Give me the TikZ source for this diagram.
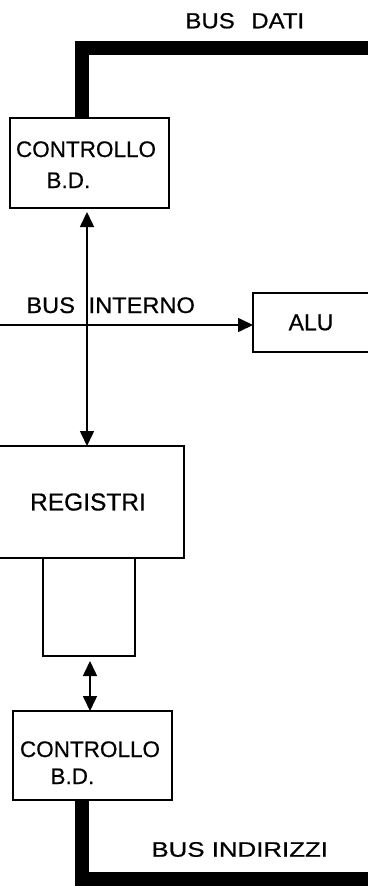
\documentclass[tikz,border=0pt]{standalone}
\usepackage{fontspec}
\setmainfont{Liberation Sans}
\newfontfamily\diagfont[FakeBold=0.6]{Liberation Sans}
\usetikzlibrary{arrows.meta}
\tikzset{
  blk/.style={draw, line width=1.6pt, inner sep=0pt, outer sep=0pt,
    font=\diagfont\fontsize{22.5}{27}\selectfont},
  lbl/.style={inner sep=0pt, outer sep=0pt, anchor=base west,
    font=\diagfont\fontsize{22.5}{27}\selectfont},
  bus/.style={line width=14pt, line join=miter, line cap=butt},
  wire/.style={line width=1.6pt},
  head/.tip={Triangle[length=15pt,width=14pt]},
  onearrow/.style={wire, -head},
  twoway/.style={wire, head-head}
}
\begin{document}
\begin{tikzpicture}[x=1pt, y=-1pt]
  \useasboundingbox (0,0) rectangle (367,886);

  % blocks
  \node[blk, minimum width=159pt, minimum height=90pt] (ctl1) at (89.5,163) {};
  \node[blk, minimum width=116pt, minimum height=59pt,
        font=\diagfont\fontsize{23}{27}\selectfont] (alu) at (311,322.5) {ALU};
  \node[blk, minimum width=192pt, minimum height=112pt,
        font=\diagfont\fontsize{24.5}{27}\selectfont] (reg) at (88,502) {REGISTRI};
  \node[blk, minimum width=92pt, minimum height=98pt] (buf) at (89,607) {};
  \node[blk, minimum width=159pt, minimum height=89pt] (ctl2) at (92.5,755.5) {};

  % block captions
  \node[lbl] (ctl1a) at (16,157) {CONTROLLO};
  \node[lbl] (ctl1b) at (46.5,188) {B.D.};
  \node[lbl] (ctl2a) at (20,757) {CONTROLLO};
  \node[lbl] (ctl2b) at (50.5,784) {B.D.};

  % bus captions
  \node[lbl, font=\diagfont\fontsize{21.8}{26}\selectfont] (datilbl) at (185.5,28.3)
    {\scalebox{1.1}[1]{BUS\hspace{15pt}DATI}};
  \node[lbl] (intlbl) at (26.4,313)
    {\scalebox{1.05}[1]{BUS\hspace{13pt}INTERNO}};
  \node[lbl, font=\diagfont\fontsize{21}{26}\selectfont] (indlbl) at (151.5,856.7)
    {\scalebox{1.23}[1]{BUS INDIRIZZI}};

  % thick external buses
  \coordinate (datiR) at (375,48);
  \coordinate (indR) at (375,878.5);
  \draw[bus] ([xshift=72pt]ctl1.north west) |- (datiR);
  \draw[bus] ([xshift=68.5pt]ctl2.south west) |- (indR);

  % internal bus and links
  \coordinate (vx) at (87,0);
  \coordinate (vx2) at (90,0);
  \coordinate (inL) at (-2,325);
  \draw[twoway] ([yshift=-4pt]ctl1.south -| vx) -- (reg.north -| vx);
  \draw[onearrow] (inL) -- (alu.west |- inL);
  \draw[twoway] ([yshift=-5pt]buf.south -| vx2) -- (ctl2.north -| vx2);
\end{tikzpicture}
\end{document}
